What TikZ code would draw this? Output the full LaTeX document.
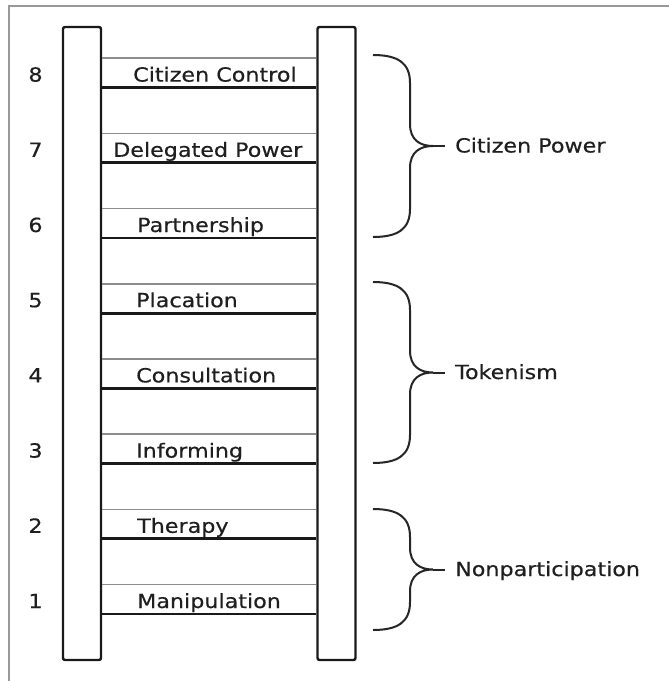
\documentclass[tikz,border=0pt]{standalone}
\usepackage{fontspec}
\newfontfamily\lblfont{DejaVu Sans}[FakeStretch=1.14,FakeBold=0.4]

% curly brace from y=#1 to y=#2 with its label #3, node name #4
\newcommand\grpbrace[4]{%
  \pgfmathsetmacro\yc{(#1+#2)/2}%
  \draw[brace] (373,#1) .. controls (398,#1) and (410,#1+8) .. (410,#1+28)
    -- (410,\yc-22) .. controls (410,\yc-6) and (420,\yc) .. (433,\yc)
    .. controls (420,\yc) and (410,\yc+6) .. (410,\yc+22)
    -- (410,#2-28) .. controls (410,#2-8) and (398,#2) .. (373,#2);
  \coordinate (#4-tip) at (433,\yc);
  \node[lbl, anchor=base west] (#4) at (455,\yc+6.5) {#3};
  \draw[brace] (#4-tip) -- ++(12,0);
}

\begin{document}
\begin{tikzpicture}[x=1pt,y=-1pt,
  rail/.style={draw=black!90, line width=2.4pt, rounded corners=2pt, fill=white,
    minimum width=38pt, minimum height=633pt, inner sep=0pt},
  rungtop/.style={draw=black!45, line width=1.6pt},
  rungbot/.style={draw=black!90, line width=2.8pt},
  brace/.style={draw=black!85, line width=2pt},
  lbl/.style={font=\lblfont\fontsize{19.5}{22}\selectfont, text=black!88, inner sep=0pt},
  frame/.style={draw=black!40, line width=2pt}]
\useasboundingbox (0,0) rectangle (669,681);
\fill[white] (0,0) rectangle (669,681);

% page frame
\draw[frame] (669,6) -- (9,6) -- (9,681);

% the two rails
\node[rail] (lrail) at (82,343.5) {};
\node[rail] (rrail) at (336.5,343.5) {};

% rungs: thin grey top edge, heavy bottom edge
\foreach \i in {1,...,8}{
  \pgfmathsetmacro\yb{614-(\i-1)*75.2}
  \pgfmathsetmacro\yt{\yb-29.5}
  \draw[rungtop] (lrail.east |- 0,\yt) -- (rrail.west |- 0,\yt);
  \draw[rungbot] (lrail.east |- 0,\yb) -- (rrail.west |- 0,\yb);
  \node[lbl, anchor=base] (n\i) at (35.5,\yb-6) {\i};
}

% rung labels
\node[lbl, anchor=base west] (r8) at (133,87.6-6) {Citizen Control};
\node[lbl, anchor=base west] (r7) at (113,162.8-6) {Delegated Power};
\node[lbl, anchor=base west] (r6) at (137,238-6) {Partnership};
\node[lbl, anchor=base west] (r5) at (136,313.2-6) {Placation};
\node[lbl, anchor=base west] (r4) at (136,388.4-6) {Consultation};
\node[lbl, anchor=base west] (r3) at (136,463.6-6) {Informing};
\node[lbl, anchor=base west] (r2) at (137,538.8-6) {Therapy};
\node[lbl, anchor=base west] (r1) at (137,614-6) {Manipulation};

% groupings
\grpbrace{55}{237}{Citizen Power}{cp}
\grpbrace{282}{463}{Tokenism}{tk}
\grpbrace{509}{630}{Nonparticipation}{np}
\end{tikzpicture}
\end{document}
